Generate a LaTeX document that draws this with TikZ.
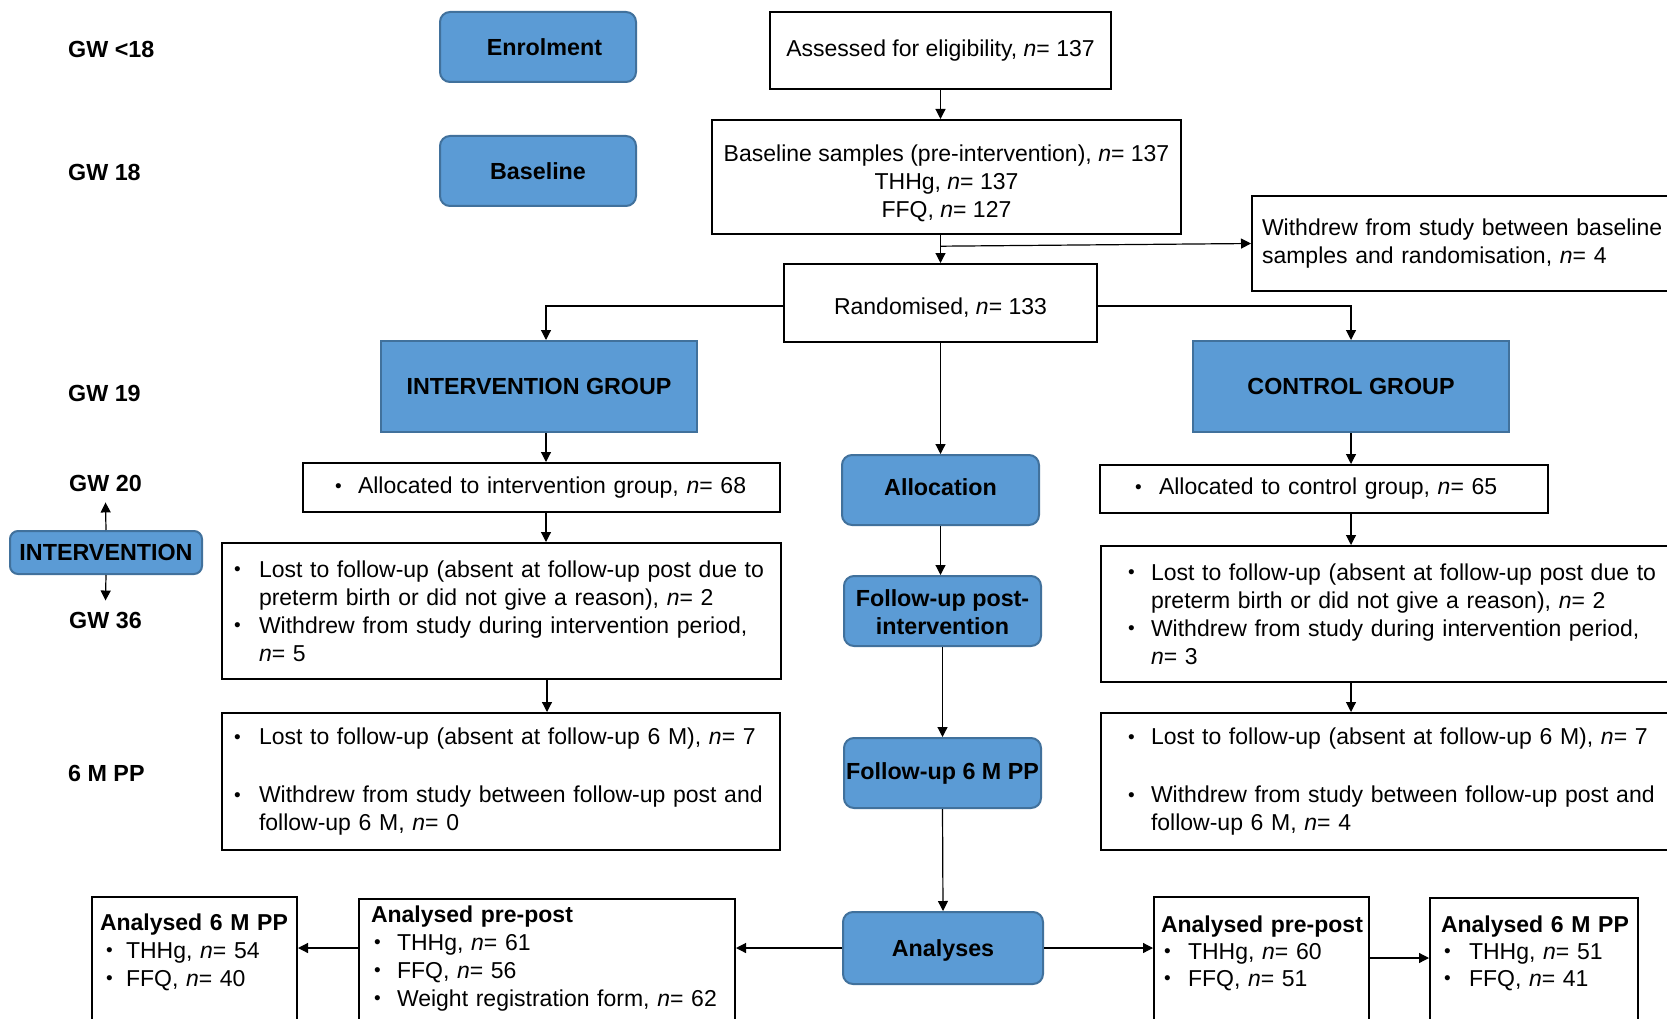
\documentclass[tikz,border=0pt]{standalone}
\usepackage{fontspec}
\setmainfont{Liberation Sans}
\usetikzlibrary{arrows.meta,calc}
\definecolor{bfill}{RGB}{91,155,213}
\definecolor{bdraw}{RGB}{65,113,156}
\newcommand{\mybul}{\raisebox{1.4pt}{\fontsize{19}{19}\selectfont •}}
\newcommand{\titem}[3]{\mbox{\hspace*{#1}\makebox[#2][l]{\mybul}#3}}
\newcommand{\tcont}[2]{\mbox{\hspace*{#1}#2}}
\newcommand{\nn}{\textit{n}}
\begin{document}
\begin{tikzpicture}[x=1pt,y=-1pt,
  every node/.style={font=\fontsize{23}{28}\selectfont},
  wbox/.style={draw=black, line width=2pt, fill=white, inner sep=0pt},
  bbox/.style={draw=bdraw, line width=2pt, fill=bfill, font=\fontsize{23.3}{28}\selectfont\bfseries, inner sep=0pt, rounded corners=10pt},
  gbox/.style={bbox, rounded corners=0pt},
  lbl/.style={font=\fontsize{23.3}{28}\selectfont\bfseries, inner sep=0pt},
  arr/.style={line width=1.2pt, -{Triangle[length=10pt,width=10pt]}},
  ln/.style={line width=1.2pt}
]
\useasboundingbox (0,0) rectangle (1667,1019);
\begin{scope}
\clip (0,0) rectangle (1667,1019);
\fill[white] (0,0) rectangle (1667,1019);

% left labels
\node[lbl, anchor=west] (gwa) at (68,49) {GW <18};
\node[lbl, anchor=west] (gwb) at (68,172) {GW 18};
\node[lbl, anchor=west] (gwc) at (68,393) {GW 19};
\node[lbl, inner ysep=11pt] (gwd) at (105.5,483) {GW 20};
\node[lbl, inner ysep=11pt] (gwe) at (105.5,620) {GW 36};
\node[lbl, anchor=west] (gwf) at (68,773) {6 M PP};
\node[bbox, rounded corners=8pt, minimum width=192pt, minimum height=43pt] (interv) at (106,552.5) {INTERVENTION};

% blue stage boxes
\node[bbox, minimum width=196pt, minimum height=70pt] (enrol) at (538,47) {\hspace*{13pt}Enrolment};
\node[bbox, minimum width=196pt, minimum height=70pt] (basel) at (538,171) {Baseline};
\node[gbox, minimum width=316pt, minimum height=91pt] (igroup) at (539,386.5) {INTERVENTION GROUP};
\node[gbox, minimum width=316pt, minimum height=91pt] (cgroup) at (1351,386.5) {CONTROL GROUP};
\node[bbox, minimum width=197pt, minimum height=70pt] (alloc) at (940.5,490) {\raisebox{3pt}[\height][0pt]{Allocation}};
\node[bbox, minimum width=197pt, minimum height=70pt, align=center] (fpost) at (942.5,611) {\rule{0pt}{19pt}Follow-up post-\\intervention};
\node[bbox, minimum width=197pt, minimum height=70pt] (f6m) at (942.5,773) {Follow-up 6 M PP};
\node[bbox, minimum width=200pt, minimum height=72pt] (analyses) at (943,948) {\rule{0pt}{22pt}Analyses};

% top white boxes
\node[wbox, minimum width=341pt, minimum height=77pt] (assess) at (940.5,50.5) {Assessed for eligibility, \nn= 137};
\node[wbox, minimum width=469pt, minimum height=114pt, align=center] (base) at (946.5,177) {\rule{0pt}{29pt}Baseline samples (pre-intervention), \nn= 137\\THHg, \nn= 137\\FFQ, \nn= 127};
\node[wbox, minimum width=440pt, minimum height=95pt, inner xsep=10pt, text width=420pt, align=left] (withdrew) at (1472,243.5) {\mbox{Withdrew from study between baseline}\\\mbox{samples and randomisation, \nn= 4}};
\node[wbox, minimum width=313pt, minimum height=78pt] (rand) at (940.5,303) {\rule{0pt}{25pt}Randomised, \nn= 133};

% intervention arm
\node[wbox, minimum height=49pt, inner xsep=32pt, text width=413pt, align=left] (iall) at (541.5,487.5) {\titem{0pt}{23pt}{Allocated to intervention group, \nn= 68}};
\node[wbox, minimum height=136pt, inner xsep=12pt, text width=535pt, align=left] (ilost) at (501.5,611) {\titem{0pt}{25pt}{Lost to follow-up (absent at follow-up post due to}\\\tcont{25pt}{preterm birth or did not give a reason), \nn= 2}\\\titem{0pt}{25pt}{Withdrew from study during intervention period,}\\\tcont{25pt}{\nn= 5}};
\node[wbox, minimum height=137pt, inner xsep=12pt, text width=534pt, align=left] (isix) at (501,781.5) {\titem{0pt}{25pt}{Lost to follow-up (absent at follow-up 6 M), \nn= 7}\\[30pt]\titem{0pt}{25pt}{Withdrew from study between follow-up post and}\\\tcont{25pt}{follow-up 6 M, \nn= 0}};

% control arm
\node[wbox, minimum height=48pt, inner xsep=35pt, text width=378pt, align=left] (call) at (1324,489) {\titem{0pt}{24pt}{Allocated to control group, \nn= 65}};
\node[wbox, minimum height=136pt, inner xsep=27pt, text width=526pt, align=left] (clost) at (1391,614) {\titem{0pt}{23pt}{Lost to follow-up (absent at follow-up post due to}\\\tcont{23pt}{preterm birth or did not give a reason), \nn= 2}\\\titem{0pt}{23pt}{Withdrew from study during intervention period,}\\\tcont{23pt}{\nn= 3}};
\node[wbox, minimum height=137pt, inner xsep=27pt, text width=526pt, align=left] (csix) at (1391,781.5) {\titem{0pt}{23pt}{Lost to follow-up (absent at follow-up 6 M), \nn= 7}\\[30pt]\titem{0pt}{23pt}{Withdrew from study between follow-up post and}\\\tcont{23pt}{follow-up 6 M, \nn= 4}};

% analysis boxes
\node[wbox, anchor=north west, inner xsep=8pt, inner ysep=16.5pt, text width=189pt, text depth=200pt, align=left] (sixmL) at (91,896) {\mbox{\textbf{Analysed 6 M PP}}\\\titem{6pt}{20pt}{THHg, \nn= 54}\\\titem{6pt}{20pt}{FFQ, \nn= 40}};
\node[wbox, anchor=north west, inner xsep=12pt, inner ysep=6.5pt, text width=352pt, text depth=200pt, align=left] (ppL) at (358,898) {\mbox{\textbf{Analysed pre-post}}\\\titem{3pt}{23pt}{THHg, \nn= 61}\\\titem{3pt}{23pt}{FFQ, \nn= 56}\\\titem{3pt}{23pt}{Weight registration form, \nn= 62}};
\node[wbox, anchor=north west, inner xsep=7pt, inner ysep=18.5pt, text width=201pt, text depth=200pt, align=left, font=\fontsize{23}{27}\selectfont] (ppR) at (1153,896) {\mbox{\textbf{Analysed pre-post}}\\\titem{3pt}{24pt}{THHg, \nn= 60}\\\titem{3pt}{24pt}{FFQ, \nn= 51}};
\node[wbox, anchor=north west, inner xsep=11pt, inner ysep=17.5pt, text width=186pt, text depth=200pt, align=left, font=\fontsize{23}{27}\selectfont] (sixmR) at (1429,897) {\mbox{\textbf{Analysed 6 M PP}}\\\titem{3pt}{25pt}{THHg, \nn= 51}\\\titem{3pt}{25pt}{FFQ, \nn= 41}};

% connectors
\draw[arr] (assess.south) -- (assess.south |- base.north);
\draw[arr] (rand.north |- base.south) -- (rand.north);
\draw[arr] ($(rand.north |- base.south)!0.4!(rand.north)$) -- (withdrew.west);
\draw[arr] ([yshift=-3pt]rand.west) -| ([xshift=7pt]igroup.north);
\draw[arr] ([yshift=-3pt]rand.east) -| (cgroup.north);
\draw[arr] (rand.south) -- (alloc.north);
\draw[arr] (alloc.south) -- (alloc.south |- fpost.north);
\draw[arr] (fpost.south) -- (f6m.north);
\draw[arr] (f6m.south) -- (analyses.north);
\draw[arr] ([xshift=7pt]igroup.south) -- ([xshift=7pt]igroup.south |- iall.north);
\draw[arr] ([xshift=7pt]igroup.south |- iall.south) -- ([xshift=7pt]igroup.south |- ilost.north);
\draw[arr] ([xshift=8pt]igroup.south |- ilost.south) -- ([xshift=8pt]igroup.south |- isix.north);
\draw[arr] (cgroup.south) -- (cgroup.south |- call.north);
\draw[arr] (cgroup.south |- call.south) -- (cgroup.south |- clost.north);
\draw[arr] (cgroup.south |- clost.south) -- (cgroup.south |- csix.north);
\draw[arr] (interv.north) -- (gwd.south);
\draw[arr] (interv.south) -- (gwe.north);
\draw[arr] (analyses.west) -- (analyses.west -| ppL.east);
\draw[arr] (ppL.west |- analyses.west) -- (sixmL.east |- analyses.west);
\draw[arr] (analyses.east) -- (analyses.east -| ppR.west);
\draw[arr] ($(analyses.east -| ppR.east)+(0,10)$) -- ($(analyses.east -| sixmR.west)+(0,10)$);
\end{scope}
\end{tikzpicture}
\end{document}
